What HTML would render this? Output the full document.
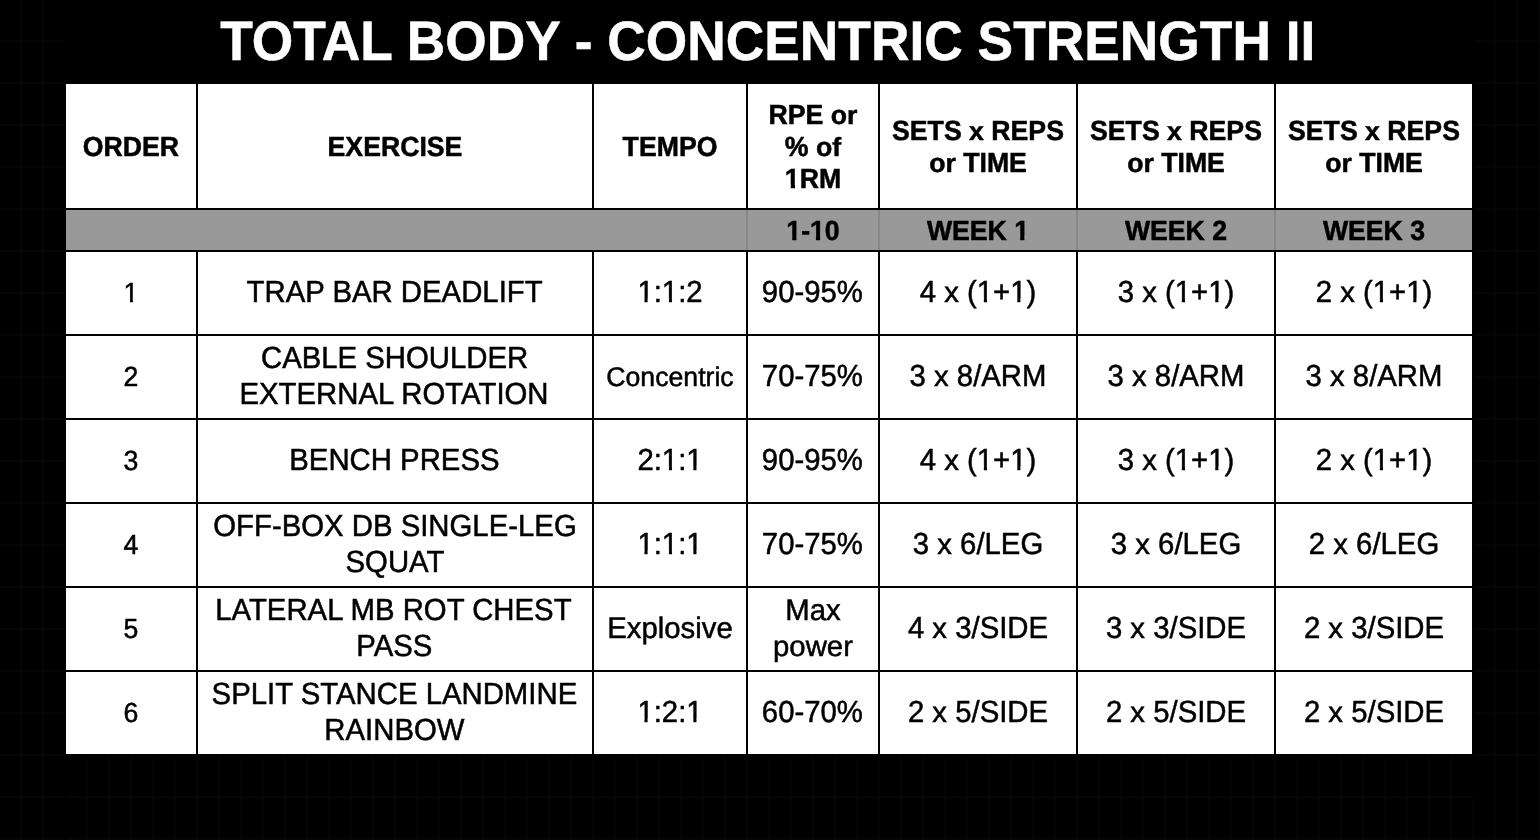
<!DOCTYPE html>
<html lang="en">
<head>
<meta charset="utf-8">
<title>Total Body - Concentric Strength II</title>
<style>
*{box-sizing:border-box;margin:0;padding:0}
html,body{width:1540px;height:840px;overflow:hidden;background:#000}
body{position:relative;font-family:"Liberation Sans",sans-serif;color:#000;
 text-rendering:geometricPrecision;
 background-color:#000;
 background-image:
  repeating-linear-gradient(to right,transparent 0,transparent 20px,#050505 20px,#050505 22px),
  repeating-linear-gradient(to bottom,transparent 0,transparent 40px,#050505 40px,#050505 42px);
}
h1{position:absolute;left:64px;top:0;width:1410px;height:84px;background:#000;color:#fff;
 font-weight:bold;font-size:53.333px;line-height:84px;white-space:nowrap;text-align:center;
 -webkit-text-stroke:0.5px #fff}
h1 span{display:block;transform:translate(-1.25px,0px) scaleY(1.04)}
.sheet{position:absolute;left:64px;top:84px;width:1410px;height:672px;background:#000}
.c{position:absolute;background:#fff;display:flex;flex-direction:column;align-items:center;justify-content:center;text-align:center;
 font-size:29.333px;line-height:36px;white-space:nowrap;
 -webkit-text-stroke:0.5px #000}
.c p{display:block;position:relative;height:36px;transform:translateY(0px) scaleY(1.04)}
.h,.s{font-weight:bold;font-size:26.667px;line-height:32px}
.h p,.s p{height:32px;transform:translateY(1px) scaleY(1.04)}
.c p.a{left:-0.4px}
.c p.b{left:-0.6px}
.c p.d{left:-1.0px}
.c p.e{left:-1.6px}
.c small{font-size:26.667px}
.c i{display:inline-block;font-style:normal;transform:scaleY(0.947);transform-origin:0 78.2%}
.c i.m{transform:scaleY(0.975)}
.h i{transform-origin:0 78.9%}
.c small i{transform-origin:0 75.7%}
.s{background:#999}
.t{background:transparent}
.k{position:absolute;top:0;width:2px;background:#000}
.g{position:absolute;top:126px;width:2px;height:40px;background:#888}
</style>
</head>
<body>
<div class="k" style="left:64px;height:840px"></div><div class="k" style="left:1472px;height:798px"></div><div class="k" style="left:1474px;top:796px;width:20px;height:2px"></div><div class="k" style="left:1496px;top:796px;width:20px;height:2px"></div><div class="k" style="left:1518px;top:796px;width:20px;height:2px"></div>
<h1><span>TOTAL BODY - CONCENTRIC STRENGTH II</span></h1>
<div class="sheet">
<div class="c h" style="left:2px;top:0px;width:130px;height:124px"><p>ORDER</p></div>
<div class="c h" style="left:134px;top:0px;width:394px;height:124px"><p>EXERCISE</p></div>
<div class="c h" style="left:530px;top:0px;width:152px;height:124px"><p>TEMPO</p></div>
<div class="c h" style="left:684px;top:0px;width:130px;height:124px"><p>RPE <i>or</i></p><p>% <i>of</i></p><p style="clip-path:polygon(-9px -9px,calc(100% + 9px) -9px,calc(100% + 9px) calc(100% + 9px),15.59px calc(100% + 9px),15.59px 20.93px,10.13px 20.93px,10.13px calc(100% + 9px),5.92px calc(100% + 9px),5.92px 20.93px,0.18px 20.93px,0.18px calc(100% + 9px),-9px calc(100% + 9px))">1RM</p></div>
<div class="c h" style="left:816px;top:0px;width:196px;height:124px"><p>SETS <i>x</i> REPS</p><p><i>or</i> TIME</p></div>
<div class="c h" style="left:1014px;top:0px;width:196px;height:124px"><p>SETS <i>x</i> REPS</p><p><i>or</i> TIME</p></div>
<div class="c h" style="left:1212px;top:0px;width:196px;height:124px"><p>SETS <i>x</i> REPS</p><p><i>or</i> TIME</p></div>
<div class="c s" style="left:2px;top:126px;width:1406px;height:40px"></div>
<div class="g" style="left:682px"></div>
<div class="g" style="left:814px"></div>
<div class="g" style="left:1012px"></div>
<div class="g" style="left:1210px"></div>
<div class="c s t" style="left:684px;top:126px;width:130px;height:40px"><p style="clip-path:polygon(-9px -9px,calc(100% + 9px) -9px,calc(100% + 9px) calc(100% + 9px),39.28px calc(100% + 9px),39.28px 20.93px,33.82px 20.93px,33.82px calc(100% + 9px),29.61px calc(100% + 9px),29.61px 20.93px,23.87px 20.93px,23.87px calc(100% + 9px),15.59px calc(100% + 9px),15.59px 20.93px,10.13px 20.93px,10.13px calc(100% + 9px),5.92px calc(100% + 9px),5.92px 20.93px,0.18px 20.93px,0.18px calc(100% + 9px),-9px calc(100% + 9px))">1-10</p></div>
<div class="c s t" style="left:816px;top:126px;width:196px;height:40px"><p style="clip-path:polygon(-9px -9px,calc(100% + 9px) -9px,calc(100% + 9px) calc(100% + 9px),102.95px calc(100% + 9px),102.95px 20.93px,97.49px 20.93px,97.49px calc(100% + 9px),93.28px calc(100% + 9px),93.28px 20.93px,87.54px 20.93px,87.54px calc(100% + 9px),-9px calc(100% + 9px))">WEEK 1</p></div>
<div class="c s t" style="left:1014px;top:126px;width:196px;height:40px"><p>WEEK 2</p></div>
<div class="c s t" style="left:1212px;top:126px;width:196px;height:40px"><p>WEEK 3</p></div>
<div class="c d" style="left:2px;top:168px;width:130px;height:82px"><p style="clip-path:polygon(-9px -9px,calc(100% + 9px) -9px,calc(100% + 9px) calc(100% + 9px),15.03px calc(100% + 9px),15.03px 23.66px,9.31px 23.66px,9.31px calc(100% + 9px),6.41px calc(100% + 9px),6.41px 23.66px,0.53px 23.66px,0.53px calc(100% + 9px),-9px calc(100% + 9px))"><small>1</small></p></div>
<div class="c d" style="left:134px;top:168px;width:394px;height:82px"><p class="a">TRAP BAR DEADLIFT</p></div>
<div class="c d" style="left:530px;top:168px;width:152px;height:82px"><p style="clip-path:polygon(-9px -9px,calc(100% + 9px) -9px,calc(100% + 9px) calc(100% + 9px),40.83px calc(100% + 9px),40.83px 23.46px,34.67px 23.46px,34.67px calc(100% + 9px),31.53px calc(100% + 9px),31.53px 23.46px,25.19px 23.46px,25.19px calc(100% + 9px),16.38px calc(100% + 9px),16.38px 23.46px,10.22px 23.46px,10.22px calc(100% + 9px),7.08px calc(100% + 9px),7.08px 23.46px,0.73px 23.46px,0.73px calc(100% + 9px),-9px calc(100% + 9px))">1:1:2</p></div>
<div class="c d" style="left:684px;top:168px;width:130px;height:82px"><p class="b">90-95%</p></div>
<div class="c d" style="left:816px;top:168px;width:196px;height:82px"><p style="clip-path:polygon(-9px -9px,calc(100% + 9px) -9px,calc(100% + 9px) calc(100% + 9px),106.87px calc(100% + 9px),106.87px 23.46px,100.70px 23.46px,100.70px calc(100% + 9px),97.56px calc(100% + 9px),97.56px 23.46px,91.22px 23.46px,91.22px calc(100% + 9px),73.43px calc(100% + 9px),73.43px 23.46px,67.27px 23.46px,67.27px calc(100% + 9px),64.12px calc(100% + 9px),64.12px 23.46px,57.78px 23.46px,57.78px calc(100% + 9px),-9px calc(100% + 9px))">4 <i>x</i> (1+1)</p></div>
<div class="c d" style="left:1014px;top:168px;width:196px;height:82px"><p style="clip-path:polygon(-9px -9px,calc(100% + 9px) -9px,calc(100% + 9px) calc(100% + 9px),106.87px calc(100% + 9px),106.87px 23.46px,100.70px 23.46px,100.70px calc(100% + 9px),97.56px calc(100% + 9px),97.56px 23.46px,91.22px 23.46px,91.22px calc(100% + 9px),73.43px calc(100% + 9px),73.43px 23.46px,67.27px 23.46px,67.27px calc(100% + 9px),64.12px calc(100% + 9px),64.12px 23.46px,57.78px 23.46px,57.78px calc(100% + 9px),-9px calc(100% + 9px))">3 <i>x</i> (1+1)</p></div>
<div class="c d" style="left:1212px;top:168px;width:196px;height:82px"><p style="clip-path:polygon(-9px -9px,calc(100% + 9px) -9px,calc(100% + 9px) calc(100% + 9px),106.87px calc(100% + 9px),106.87px 23.46px,100.70px 23.46px,100.70px calc(100% + 9px),97.56px calc(100% + 9px),97.56px 23.46px,91.22px 23.46px,91.22px calc(100% + 9px),73.43px calc(100% + 9px),73.43px 23.46px,67.27px 23.46px,67.27px calc(100% + 9px),64.12px calc(100% + 9px),64.12px 23.46px,57.78px 23.46px,57.78px calc(100% + 9px),-9px calc(100% + 9px))">2 <i>x</i> (1+1)</p></div>
<div class="c d" style="left:2px;top:252px;width:130px;height:82px"><p><small>2</small></p></div>
<div class="c d" style="left:134px;top:252px;width:394px;height:82px"><p class="a">CABLE SHOULDER</p><p class="d">EXTERNAL ROTATION</p></div>
<div class="c d" style="left:530px;top:252px;width:152px;height:82px"><p><small><i class="m">Concentric</i></small></p></div>
<div class="c d" style="left:684px;top:252px;width:130px;height:82px"><p class="b">70-75%</p></div>
<div class="c d" style="left:816px;top:252px;width:196px;height:82px"><p>3 <i>x</i> 8/ARM</p></div>
<div class="c d" style="left:1014px;top:252px;width:196px;height:82px"><p>3 <i>x</i> 8/ARM</p></div>
<div class="c d" style="left:1212px;top:252px;width:196px;height:82px"><p>3 <i>x</i> 8/ARM</p></div>
<div class="c d" style="left:2px;top:336px;width:130px;height:82px"><p><small>3</small></p></div>
<div class="c d" style="left:134px;top:336px;width:394px;height:82px"><p class="b">BENCH PRESS</p></div>
<div class="c d" style="left:530px;top:336px;width:152px;height:82px"><p style="clip-path:polygon(-9px -9px,calc(100% + 9px) -9px,calc(100% + 9px) calc(100% + 9px),65.29px calc(100% + 9px),65.29px 23.46px,59.12px 23.46px,59.12px calc(100% + 9px),55.98px calc(100% + 9px),55.98px 23.46px,49.64px 23.46px,49.64px calc(100% + 9px),40.83px calc(100% + 9px),40.83px 23.46px,34.67px 23.46px,34.67px calc(100% + 9px),31.53px calc(100% + 9px),31.53px 23.46px,25.19px 23.46px,25.19px calc(100% + 9px),-9px calc(100% + 9px))">2:1:1</p></div>
<div class="c d" style="left:684px;top:336px;width:130px;height:82px"><p class="b">90-95%</p></div>
<div class="c d" style="left:816px;top:336px;width:196px;height:82px"><p style="clip-path:polygon(-9px -9px,calc(100% + 9px) -9px,calc(100% + 9px) calc(100% + 9px),106.87px calc(100% + 9px),106.87px 23.46px,100.70px 23.46px,100.70px calc(100% + 9px),97.56px calc(100% + 9px),97.56px 23.46px,91.22px 23.46px,91.22px calc(100% + 9px),73.43px calc(100% + 9px),73.43px 23.46px,67.27px 23.46px,67.27px calc(100% + 9px),64.12px calc(100% + 9px),64.12px 23.46px,57.78px 23.46px,57.78px calc(100% + 9px),-9px calc(100% + 9px))">4 <i>x</i> (1+1)</p></div>
<div class="c d" style="left:1014px;top:336px;width:196px;height:82px"><p style="clip-path:polygon(-9px -9px,calc(100% + 9px) -9px,calc(100% + 9px) calc(100% + 9px),106.87px calc(100% + 9px),106.87px 23.46px,100.70px 23.46px,100.70px calc(100% + 9px),97.56px calc(100% + 9px),97.56px 23.46px,91.22px 23.46px,91.22px calc(100% + 9px),73.43px calc(100% + 9px),73.43px 23.46px,67.27px 23.46px,67.27px calc(100% + 9px),64.12px calc(100% + 9px),64.12px 23.46px,57.78px 23.46px,57.78px calc(100% + 9px),-9px calc(100% + 9px))">3 <i>x</i> (1+1)</p></div>
<div class="c d" style="left:1212px;top:336px;width:196px;height:82px"><p style="clip-path:polygon(-9px -9px,calc(100% + 9px) -9px,calc(100% + 9px) calc(100% + 9px),106.87px calc(100% + 9px),106.87px 23.46px,100.70px 23.46px,100.70px calc(100% + 9px),97.56px calc(100% + 9px),97.56px 23.46px,91.22px 23.46px,91.22px calc(100% + 9px),73.43px calc(100% + 9px),73.43px 23.46px,67.27px 23.46px,67.27px calc(100% + 9px),64.12px calc(100% + 9px),64.12px 23.46px,57.78px 23.46px,57.78px calc(100% + 9px),-9px calc(100% + 9px))">2 <i>x</i> (1+1)</p></div>
<div class="c d" style="left:2px;top:420px;width:130px;height:82px"><p><small>4</small></p></div>
<div class="c d" style="left:134px;top:420px;width:394px;height:82px"><p>OFF-BOX DB SINGLE-LEG</p><p>SQUAT</p></div>
<div class="c d" style="left:530px;top:420px;width:152px;height:82px"><p style="clip-path:polygon(-9px -9px,calc(100% + 9px) -9px,calc(100% + 9px) calc(100% + 9px),65.29px calc(100% + 9px),65.29px 23.46px,59.12px 23.46px,59.12px calc(100% + 9px),55.98px calc(100% + 9px),55.98px 23.46px,49.64px 23.46px,49.64px calc(100% + 9px),40.83px calc(100% + 9px),40.83px 23.46px,34.67px 23.46px,34.67px calc(100% + 9px),31.53px calc(100% + 9px),31.53px 23.46px,25.19px 23.46px,25.19px calc(100% + 9px),16.38px calc(100% + 9px),16.38px 23.46px,10.22px 23.46px,10.22px calc(100% + 9px),7.08px calc(100% + 9px),7.08px 23.46px,0.73px 23.46px,0.73px calc(100% + 9px),-9px calc(100% + 9px))">1:1:1</p></div>
<div class="c d" style="left:684px;top:420px;width:130px;height:82px"><p class="b">70-75%</p></div>
<div class="c d" style="left:816px;top:420px;width:196px;height:82px"><p>3 <i>x</i> 6/LEG</p></div>
<div class="c d" style="left:1014px;top:420px;width:196px;height:82px"><p>3 <i>x</i> 6/LEG</p></div>
<div class="c d" style="left:1212px;top:420px;width:196px;height:82px"><p>2 <i>x</i> 6/LEG</p></div>
<div class="c d" style="left:2px;top:504px;width:130px;height:82px"><p><small>5</small></p></div>
<div class="c d" style="left:134px;top:504px;width:394px;height:82px"><p class="e">LATERAL MB ROT CHEST</p><p class="b">PASS</p></div>
<div class="c d" style="left:530px;top:504px;width:152px;height:82px"><p><i class="m">Explosive</i></p></div>
<div class="c d" style="left:684px;top:504px;width:130px;height:82px"><p><i class="m">Max</i></p><p><i>power</i></p></div>
<div class="c d" style="left:816px;top:504px;width:196px;height:82px"><p>4 <i>x</i> 3/SIDE</p></div>
<div class="c d" style="left:1014px;top:504px;width:196px;height:82px"><p>3 <i>x</i> 3/SIDE</p></div>
<div class="c d" style="left:1212px;top:504px;width:196px;height:82px"><p>2 <i>x</i> 3/SIDE</p></div>
<div class="c d" style="left:2px;top:588px;width:130px;height:82px"><p><small>6</small></p></div>
<div class="c d" style="left:134px;top:588px;width:394px;height:82px"><p class="b">SPLIT STANCE LANDMINE</p><p class="b">RAINBOW</p></div>
<div class="c d" style="left:530px;top:588px;width:152px;height:82px"><p style="clip-path:polygon(-9px -9px,calc(100% + 9px) -9px,calc(100% + 9px) calc(100% + 9px),65.29px calc(100% + 9px),65.29px 23.46px,59.12px 23.46px,59.12px calc(100% + 9px),55.98px calc(100% + 9px),55.98px 23.46px,49.64px 23.46px,49.64px calc(100% + 9px),16.38px calc(100% + 9px),16.38px 23.46px,10.22px 23.46px,10.22px calc(100% + 9px),7.08px calc(100% + 9px),7.08px 23.46px,0.73px 23.46px,0.73px calc(100% + 9px),-9px calc(100% + 9px))">1:2:1</p></div>
<div class="c d" style="left:684px;top:588px;width:130px;height:82px"><p class="b">60-70%</p></div>
<div class="c d" style="left:816px;top:588px;width:196px;height:82px"><p>2 <i>x</i> 5/SIDE</p></div>
<div class="c d" style="left:1014px;top:588px;width:196px;height:82px"><p>2 <i>x</i> 5/SIDE</p></div>
<div class="c d" style="left:1212px;top:588px;width:196px;height:82px"><p>2 <i>x</i> 5/SIDE</p></div>
</div>
</body>
</html>
